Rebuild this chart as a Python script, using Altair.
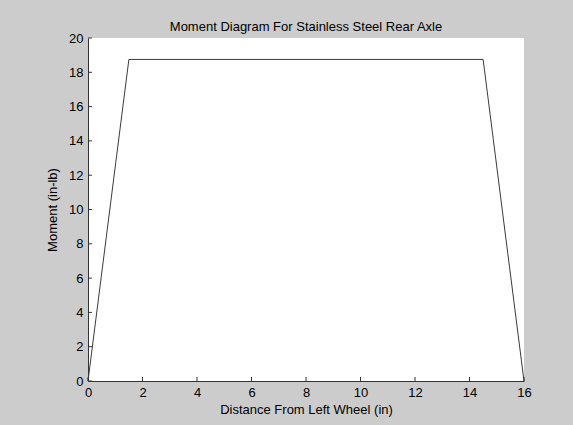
import altair as alt
import pandas as pd

# Data
distance = [0, 1.5, 14.5, 16]
moment = [0, 18.75, 18.75, 0]
x_ticks = [0, 2, 4, 6, 8, 10, 12, 14, 16]
y_ticks = [0, 2, 4, 6, 8, 10, 12, 14, 16, 18, 20]

W, H = 436, 343
FONT = "Liberation Sans"

line_df = pd.DataFrame({"x": distance, "y": moment})
xt_df = pd.DataFrame({"x": x_ticks})
yt_df = pd.DataFrame({"y": y_ticks})

xscale = alt.Scale(domain=[0, 16], nice=False, zero=False)
yscale = alt.Scale(domain=[0, 20], nice=False, zero=False)

xaxis = alt.Axis(title="Distance From Left Wheel (in)", values=x_ticks,
                 ticks=False, grid=False, labelPadding=5, titlePadding=4,
                 labelOverlap=False, labelFlush=False, labelBound=False,
                 format="d")
yaxis = alt.Axis(title="Moment (in-lb)", values=y_ticks,
                 ticks=False, grid=False, labelPadding=5, titlePadding=9,
                 labelOverlap=False, labelFlush=False, labelBound=False,
                 format="d")

line = alt.Chart(line_df).mark_line(color="#3a3a3a", strokeWidth=1).encode(
    x=alt.X("x:Q", scale=xscale, axis=xaxis),
    y=alt.Y("y:Q", scale=yscale, axis=yaxis),
    order="x:Q",
)

xticks = alt.Chart(xt_df).mark_rule(color="#333333", strokeWidth=1).encode(
    x=alt.X("x:Q", scale=xscale, axis=xaxis),
    y=alt.value(H),
    y2=alt.value(H - 4),
)

yticks = alt.Chart(yt_df).mark_rule(color="#333333", strokeWidth=1).encode(
    y=alt.Y("y:Q", scale=yscale, axis=yaxis),
    x=alt.value(0),
    x2=alt.value(4),
)

chart = alt.layer(line, xticks, yticks).properties(
    width=W,
    height=H,
    title=alt.TitleParams("Moment Diagram For Stainless Steel Rear Axle",
                          fontSize=13, font=FONT, fontWeight="normal",
                          color="black", offset=-2),
    autosize=alt.AutoSizeParams(type="none"),
    padding={"left": 88, "top": 38, "right": 49, "bottom": 44},
).configure(
    background="#cccccc",
).configure_view(
    fill="white", stroke=None, strokeWidth=0,
).configure_axis(
    labelFont=FONT, titleFont=FONT, labelFontSize=13, titleFontSize=13,
    labelColor="black", titleColor="black", titleFontWeight="normal",
    domainColor="#333333", domainWidth=1, labelOverlap=False,
)

chart.save("out.html", embed_options={"renderer": "svg", "actions": False})
